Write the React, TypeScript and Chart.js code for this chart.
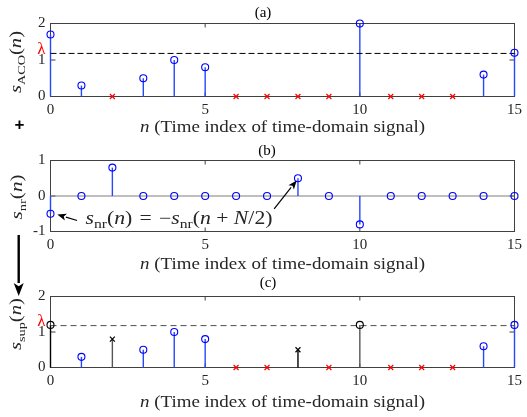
import React, { useEffect, useRef } from "react";
import { Chart, registerables } from "chart.js";

Chart.register(...registerables);

// ---------------- data ----------------
const N_INDEX = [0, 1, 2, 3, 4, 5, 6, 7, 8, 9, 10, 11, 12, 13, 14, 15];
const LAMBDA = 1.18;
const S_ACO = [1.7, 0.3, 0, 0.5, 1.0, 0.8, 0, 0, 0, 0, 2.0, 0, 0, 0, 0.6, 1.2];
const ACO_KEPT = [0, 1, 3, 4, 5, 10, 14, 15];
const ACO_CLIPPED = [2, 6, 7, 8, 9, 11, 12, 13];
const S_NR = [-0.5, 0, 0.8, 0, 0, 0, 0, 0, 0.5, 0, -0.8, 0, 0, 0, 0, 0];
const S_SUP = [1.2, 0.3, 0.8, 0.5, 1.0, 0.8, 0, 0, 0.5, 0, 1.2, 0, 0, 0, 0.6, 1.2];
const SUP_KEPT = [1, 3, 4, 5, 14, 15];
const SUP_PEAKS = [0, 10];
const SUP_ADDED = [2, 8];
const SUP_CLIPPED = [6, 7, 9, 11, 12, 13];
const X_TICKS = [0, 5, 10, 15];
const Y_TICKS_POS = [0, 1, 2];
const Y_TICKS_NR = [-1, 0, 1];
const PANEL_TITLES = ["(a)", "(b)", "(c)"];
const X_LABEL_REST = " (Time index of time-domain signal)";
const Y_SUBSCRIPTS = ["ACO", "nr", "sup"];
// annotation anchors (data coordinates of panel b)
const ANNOT_TEXT_AT = [1.13, -0.78];
const ANNOT_ARROW1 = [0.86, -0.69, 0.22, -0.52];
const ANNOT_ARROW2 = [7.23, -0.36, 7.96, 0.44];

// ---------------- styles ----------------
const FONT = '"Liberation Serif", "Times New Roman", serif';
const INK = "#262626";
const BOX = "#404040";
const BLUE = "#0000ff";
const STEM_BLUE = "#2646ff";
const RED = "#ff0000";
const W = 527;

type Seg = { t: string; it?: boolean; sub?: boolean };

function drawRich(
  ctx: CanvasRenderingContext2D,
  segs: Seg[],
  x: number,
  y: number,
  size: number,
  align: "left" | "center",
  rotate: boolean,
  color: string,
  targetW?: number
) {
  ctx.save();
  ctx.translate(x, y);
  if (rotate) ctx.rotate(-Math.PI / 2);
  ctx.fillStyle = color;
  ctx.textBaseline = "alphabetic";
  ctx.textAlign = "left";
  const fontOf = (s: Seg) =>
    `${s.it ? "italic " : ""}${s.sub ? Math.round(size * 0.7) : size}px ${FONT}`;
  const widths = segs.map((s) => {
    ctx.font = fontOf(s);
    return ctx.measureText(s.t).width;
  });
  const total = widths.reduce((a, b) => a + b, 0);
  const sx = targetW ? targetW / total : 1;
  const start = align === "center" ? (-total * sx) / 2 : 0;
  ctx.translate(start, 0);
  ctx.scale(sx, 1);
  let cx = 0;
  segs.forEach((s, i) => {
    ctx.font = fontOf(s);
    ctx.fillText(s.t, cx, s.sub ? size * 0.24 : 0);
    cx += widths[i];
  });
  ctx.restore();
}

function arrow(ctx: CanvasRenderingContext2D, x1: number, y1: number, x2: number, y2: number, lw: number, headLen: number, headW: number) {
  const ang = Math.atan2(y2 - y1, x2 - x1);
  const bx = x2 - Math.cos(ang) * headLen;
  const by = y2 - Math.sin(ang) * headLen;
  ctx.save();
  ctx.strokeStyle = "#000";
  ctx.fillStyle = "#000";
  ctx.lineWidth = lw;
  ctx.beginPath();
  ctx.moveTo(x1, y1);
  ctx.lineTo(bx, by);
  ctx.stroke();
  ctx.beginPath();
  ctx.moveTo(x2, y2);
  ctx.lineTo(bx + Math.sin(ang) * headW, by - Math.cos(ang) * headW);
  ctx.lineTo(bx + Math.cos(ang) * headLen * 0.25, by + Math.sin(ang) * headLen * 0.25);
  ctx.lineTo(bx - Math.sin(ang) * headW, by + Math.cos(ang) * headW);
  ctx.closePath();
  ctx.fill();
  ctx.restore();
}

const stem = (n: number, v: number, color: string) => ({
  data: [
    { x: n, y: 0 },
    { x: n, y: v },
  ],
  showLine: true,
  borderColor: color,
  backgroundColor: color,
  borderWidth: 1.4,
  pointRadius: 0,
  clip: false as const,
});
const circles = (idx: number[], vals: number[], color: string) => ({
  data: idx.map((n) => ({ x: n, y: vals[n] })),
  showLine: false,
  pointStyle: "circle",
  pointRadius: 3.5,
  pointBorderWidth: 1.1,
  pointBorderColor: color,
  pointBackgroundColor: "rgba(0,0,0,0)",
  borderColor: color,
  backgroundColor: "rgba(0,0,0,0)",
  clip: false as const,
});
const crosses = (idx: number[], vals: number[], color: string) => ({
  data: idx.map((n) => ({ x: n, y: vals[n] })),
  showLine: false,
  pointStyle: "crossRot",
  pointRadius: 3.5,
  pointBorderWidth: 1.2,
  pointBorderColor: color,
  pointBackgroundColor: color,
  borderColor: color,
  backgroundColor: color,
  clip: false as const,
});
const hline = (y: number, color: string, dash: number[]) => ({
  data: [
    { x: 0, y },
    { x: 15, y },
  ],
  showLine: true,
  borderColor: color,
  backgroundColor: color,
  borderWidth: 1,
  borderDash: dash,
  pointRadius: 0,
  clip: false as const,
});

interface PanelSpec {
  key: number;
  top: number;
  h: number;
  padTop: number;
  xH: number;
  yMin: number;
  yMax: number;
  yTicks: number[];
  datasets: any[];
  showLambda: boolean;
  titleY: number;
  titleX: number;
  xTitleOff: number;
  yLabelX: number;
  yLabelCY: number;
  yLabelW: number;
  extra?: (chart: any, ctx: CanvasRenderingContext2D) => void;
}

const PANELS: PanelSpec[] = [
  {
    key: 0,
    top: 0,
    h: 140,
    padTop: 23.5,
    xH: 43.5,
    yMin: 0,
    yMax: 2,
    yTicks: Y_TICKS_POS,
    datasets: [
      circles(ACO_KEPT, S_ACO, BLUE),
      crosses(ACO_CLIPPED, S_ACO, RED),
      hline(LAMBDA, "#000", [6, 3]),
      ...ACO_KEPT.map((n) => stem(n, S_ACO[n], STEM_BLUE)),
    ],
    showLambda: true,
    titleY: -10,
    titleX: 263,
    xTitleOff: 35,
    yLabelX: 21,
    yLabelCY: 62,
    yLabelW: 62,
    extra: (chart, ctx) => {
      ctx.save();
      ctx.fillStyle = "#000";
      ctx.font = `bold 17px "Liberation Sans", sans-serif`;
      ctx.textAlign = "center";
      ctx.textBaseline = "middle";
      ctx.fillText("+", 19.5, 125);
      ctx.restore();
    },
  },
  {
    key: 1,
    top: 135,
    h: 142,
    padTop: 25.5,
    xH: 45.5,
    yMin: -1,
    yMax: 1,
    yTicks: Y_TICKS_NR,
    datasets: [
      circles(N_INDEX, S_NR, BLUE),
      ...N_INDEX.filter((n) => S_NR[n] !== 0).map((n) => stem(n, S_NR[n], STEM_BLUE)),
      hline(0, "#7f7f7f", []),
    ],
    showLambda: false,
    titleY: -9,
    titleX: 267,
    xTitleOff: 37,
    yLabelX: 22,
    yLabelCY: 197,
    yLabelW: 45,
    extra: (chart, ctx) => {
      const { x, y } = chart.scales;
      const px = (v: number) => x.getPixelForValue(v);
      const py = (v: number) => y.getPixelForValue(v);
      drawRich(
        ctx,
        [
          { t: "s", it: true },
          { t: "nr", sub: true },
          { t: "(" },
          { t: "n", it: true },
          { t: ")\u2004=\u2004\u2212" },
          { t: "s", it: true },
          { t: "nr", sub: true },
          { t: "(" },
          { t: "n", it: true },
          { t: " + " },
          { t: "N", it: true },
          { t: "/2)" },
        ],
        px(ANNOT_TEXT_AT[0]),
        py(ANNOT_TEXT_AT[1]),
        18,
        "left",
        false,
        INK,
        187
      );
      arrow(ctx, px(ANNOT_ARROW1[0]), py(ANNOT_ARROW1[1]), px(ANNOT_ARROW1[2]), py(ANNOT_ARROW1[3]), 1.2, 9, 3.5);
      arrow(ctx, px(ANNOT_ARROW2[0]), py(ANNOT_ARROW2[1]), px(ANNOT_ARROW2[2]), py(ANNOT_ARROW2[3]), 1.2, 9, 3.5);
    },
  },
  {
    key: 2,
    top: 225,
    h: 192,
    padTop: 71.5,
    xH: 49.5,
    yMin: 0,
    yMax: 2,
    yTicks: Y_TICKS_POS,
    datasets: [
      circles(SUP_KEPT, S_SUP, BLUE),
      circles(SUP_PEAKS, S_SUP, "#000"),
      crosses(SUP_ADDED, S_SUP, "#000"),
      crosses(SUP_CLIPPED, S_SUP, RED),
      hline(LAMBDA, "#4d4d4d", [6, 4]),
      ...SUP_KEPT.map((n) => stem(n, S_SUP[n], STEM_BLUE)),
      stem(0, S_SUP[0], "#000"),
      stem(2, S_SUP[2], "#555"),
      stem(8, S_SUP[8], "#000"),
      stem(10, S_SUP[10], "#555"),
    ],
    showLambda: true,
    titleY: -13,
    titleX: 268,
    xTitleOff: 39.5,
    yLabelX: 21,
    yLabelCY: 324,
    yLabelW: 52,
    extra: (chart, ctx) => {
      arrow(ctx, 18.7, 235 - 225, 18.7, 296 - 225, 2.4, 13, 5);
    },
  },
];

function buildConfig(spec: PanelSpec): any {
  const plugin = {
    id: "matlabAxes" + spec.key,
    beforeDatasetsDraw(chart: any) {
      const { ctx, chartArea } = chart;
      const { left, right, top, bottom } = chartArea;
      const { x, y } = chart.scales;
      ctx.save();
      ctx.strokeStyle = BOX;
      ctx.lineWidth = 1;
      ctx.strokeRect(left, top, right - left, bottom - top);
      ctx.beginPath();
      X_TICKS.forEach((v) => {
        const p = x.getPixelForValue(v);
        ctx.moveTo(p, bottom);
        ctx.lineTo(p, bottom - 4);
        ctx.moveTo(p, top);
        ctx.lineTo(p, top + 4);
      });
      spec.yTicks.forEach((v) => {
        const p = y.getPixelForValue(v);
        ctx.moveTo(left, p);
        ctx.lineTo(left + 5, p);
        ctx.moveTo(right, p);
        ctx.lineTo(right - 5, p);
      });
      ctx.stroke();
      ctx.restore();
    },
    afterDraw(chart: any) {
      const { ctx, chartArea } = chart;
      const { left, right, top, bottom } = chartArea;
      const { y } = chart.scales;
      ctx.save();
      ctx.fillStyle = "#000";
      ctx.font = `15px ${FONT}`;
      ctx.textAlign = "center";
      ctx.textBaseline = "middle";
      ctx.fillText(PANEL_TITLES[spec.key], spec.titleX, top + spec.titleY);
      ctx.restore();
      drawRich(ctx, [{ t: "n", it: true }, { t: X_LABEL_REST }], (left + right) / 2, bottom + spec.xTitleOff, 17, "center", false, INK, 285);
      drawRich(
        ctx,
        [{ t: "s", it: true }, { t: Y_SUBSCRIPTS[spec.key], sub: true }, { t: "(" }, { t: "n", it: true }, { t: ")" }],
        spec.yLabelX,
        spec.yLabelCY - spec.top,
        16,
        "center",
        true,
        INK,
        spec.yLabelW
      );
      if (spec.showLambda) {
        ctx.save();
        ctx.fillStyle = RED;
        ctx.font = `17px ${FONT}`;
        ctx.textAlign = "right";
        ctx.textBaseline = "alphabetic";
        ctx.fillText("\u03bb", left - 5, y.getPixelForValue(LAMBDA) + 0.5);
        ctx.restore();
      }
      if (spec.extra) spec.extra(chart, ctx);
    },
  };

  return {
    type: "scatter",
    data: { datasets: spec.datasets },
    options: {
      animation: false,
      responsive: false,
      devicePixelRatio: 1,
      events: [],
      layout: { padding: { top: spec.padTop, right: 11.5, left: 0.5, bottom: 0 } },
      plugins: { legend: { display: false }, tooltip: { enabled: false }, title: { display: false } },
      scales: {
        x: {
          type: "linear",
          min: 0,
          max: 15,
          offset: false,
          grid: { display: false, drawTicks: false },
          border: { display: false },
          ticks: { stepSize: 5, autoSkip: false, maxRotation: 0, padding: 5, color: INK, font: { family: FONT, size: 15 } },
          afterFit: (s: any) => {
            s.height = spec.xH;
          },
        },
        y: {
          type: "linear",
          min: spec.yMin,
          max: spec.yMax,
          grid: { display: false, drawTicks: false },
          border: { display: false },
          ticks: { stepSize: 1, padding: 5, color: INK, font: { family: FONT, size: 15 } },
          afterFit: (s: any) => {
            s.width = 50;
          },
        },
      },
    },
    plugins: [plugin],
  };
}

function Panel({ spec }: { spec: PanelSpec }) {
  const ref = useRef<HTMLCanvasElement>(null);
  useEffect(() => {
    const chart = new Chart(ref.current as HTMLCanvasElement, buildConfig(spec));
    return () => chart.destroy();
  }, [spec]);
  return (
    <canvas
      ref={ref}
      width={W}
      height={spec.h}
      style={{ position: "absolute", left: 0, top: spec.top, width: W, height: spec.h }}
    />
  );
}

export default function App() {
  return (
    <div style={{ position: "fixed", left: 0, top: 0, width: W, height: 417, background: "#fff" }}>
      {PANELS.map((p) => (
        <Panel key={p.key} spec={p} />
      ))}
    </div>
  );
}
